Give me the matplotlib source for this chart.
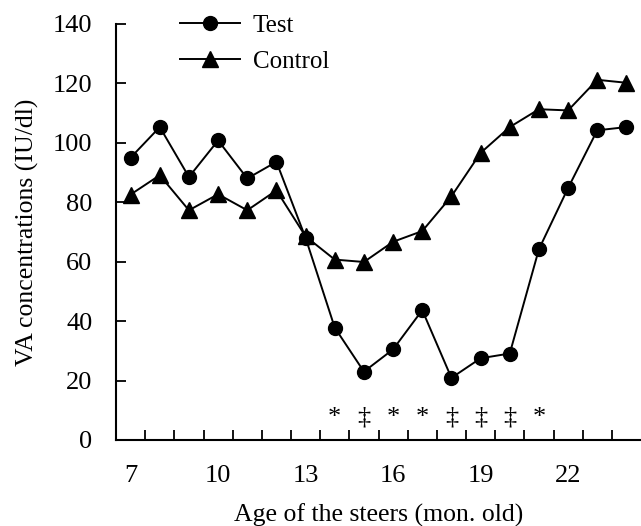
import numpy as np
import matplotlib
matplotlib.use("Agg")
import matplotlib.pyplot as plt

# values
months = list(range(7, 25))
test = [95.0, 105.3, 88.5, 100.8, 88.0, 93.6, 68.0, 37.8, 23.0,
        30.5, 43.7, 20.9, 27.5, 29.1, 64.2, 84.8, 104.2, 105.3]
control = [82.6, 89.1, 77.3, 82.7, 77.3, 84.0, 68.5, 60.7, 59.9,
           66.7, 70.3, 82.0, 96.6, 105.3, 111.3, 110.9, 121.2, 120.2]

# significance marks under the curves
sig_months = [14, 15, 16, 17, 18, 19, 20, 21]
sig_marks = ["*", "\u2021", "*", "*", "\u2021", "\u2021", "\u2021", "*"]

xtick_labels = [7, 10, 13, 16, 19, 22]
ytick_values = [0, 20, 40, 60, 80, 100, 120, 140]

plt.rcParams['font.family'] = ['Liberation Serif', 'DejaVu Serif']

fig = plt.figure(figsize=(6.41, 5.26), dpi=100)
ax = fig.add_axes([0.181, 0.1635, 0.819, 0.791])

ax.plot(months, test, color='black', lw=1.4, marker='o', ms=10,
        label='Test')
ax.plot(months, control, color='black', lw=1.4, marker='^', ms=11,
        label='Control')

for m, s in zip(sig_months, sig_marks):
    ax.text(m, 5.5, s, ha='center', va='baseline', fontsize=19)

ax.set_xlim(6.5, 24.5)
ax.set_ylim(0, 140)
ax.set_xticks(xtick_labels)
ax.set_xticks(np.arange(7.5, 24.5, 1), minor=True)
ax.set_yticks(ytick_values)
ax.tick_params(axis='x', which='major', length=0, pad=18, labelsize=19)
ax.tick_params(axis='x', which='minor', direction='in', length=7, width=1.3)
ax.tick_params(axis='y', direction='in', length=7, width=1.3, pad=17,
               labelsize=19)

for side in ['top', 'right']:
    ax.spines[side].set_visible(False)
for side in ['left', 'bottom']:
    ax.spines[side].set_linewidth(1.5)

ax.set_xlabel('Age of the steers (mon. old)', fontsize=18.5, labelpad=12)
ax.set_ylabel('VA concentrations (IU/dl)', fontsize=18.5, labelpad=10)

ax.legend(loc='upper left', bbox_to_anchor=(180 / 641, 1 - 14 / 526),
          bbox_transform=fig.transFigure, frameon=False,
          fontsize=18, handlelength=2.4, handletextpad=0.5,
          labelspacing=0.55, borderaxespad=0.0, borderpad=0.0)

fig.savefig('out.png', dpi=100)
